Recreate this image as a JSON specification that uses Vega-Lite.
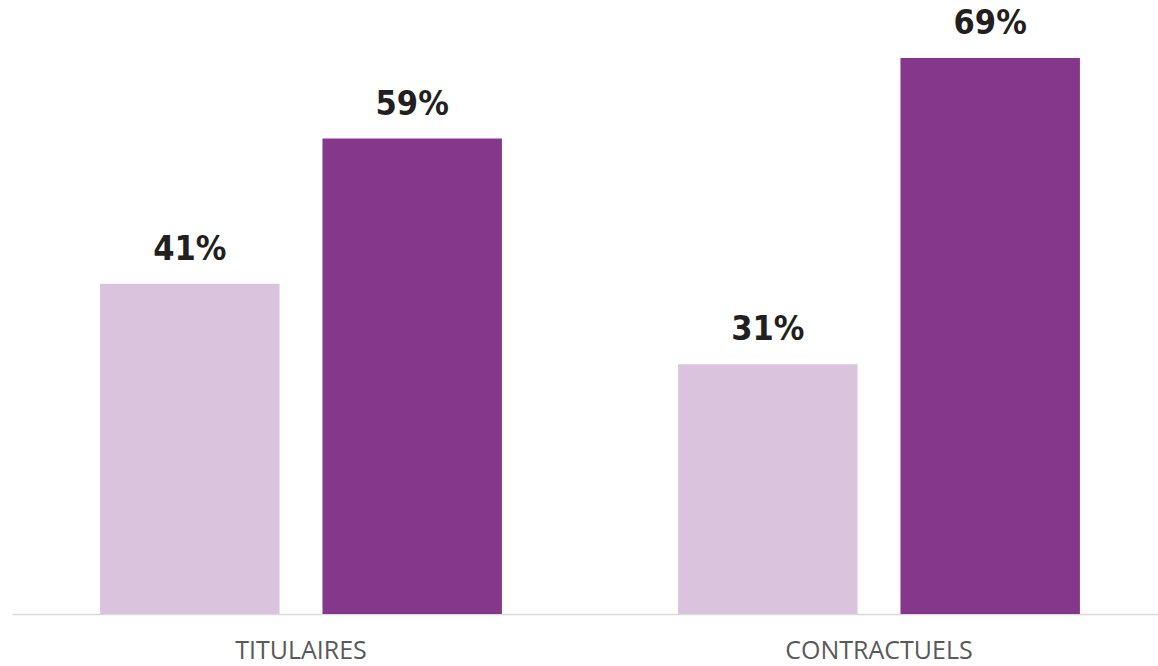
{
  "$schema": "https://vega.github.io/schema/vega-lite/v6.json",
  "width": 1146,
  "height": 614,
  "autosize": "none",
  "padding": {"left": 12, "top": 0, "right": 0, "bottom": 52},
  "background": "white",
  "config": {"view": {"stroke": null}},
  "data": {"values": [
    {"statut": "TITULAIRES", "serie": "A", "pct": 0.41},
    {"statut": "TITULAIRES", "serie": "B", "pct": 0.59},
    {"statut": "CONTRACTUELS", "serie": "A", "pct": 0.31},
    {"statut": "CONTRACTUELS", "serie": "B", "pct": 0.69}
  ]},
  "encoding": {
    "x": {"field": "statut", "type": "nominal", "sort": ["TITULAIRES", "CONTRACTUELS"],
      "scale": {"range": [0, 1156], "paddingInner": 0, "paddingOuter": 0},
      "axis": {"title": null, "labelAngle": 0, "labelFont": "Open Sans", "labelFontSize": 25, "labelColor": "#595959",
        "labelBaseline": "alphabetic", "labelPadding": 44, "labelLimit": 0, "ticks": false, "domainColor": "#D9D9D9", "domainWidth": 1.5, "grid": false}},
    "xOffset": {"field": "serie", "type": "nominal", "scale": {"paddingInner": 0.193, "paddingOuter": 0.396}},
    "y": {"field": "pct", "type": "quantitative", "scale": {"domain": [0, 0.762]}, "axis": null}
  },
  "layer": [
    {"mark": {"type": "bar"},
     "encoding": {"color": {"field": "serie", "type": "nominal", "scale": {"domain": ["A", "B"], "range": ["#D9C3DD", "#84378B"]}, "legend": null}}},
    {"mark": {"type": "text", "baseline": "alphabetic", "dy": -24, "font": "DejaVu Sans Condensed", "fontWeight": "bold", "fontSize": 34, "color": "#231F20"},
     "encoding": {"text": {"field": "pct", "type": "quantitative", "format": ".0%"}}}
  ]
}
